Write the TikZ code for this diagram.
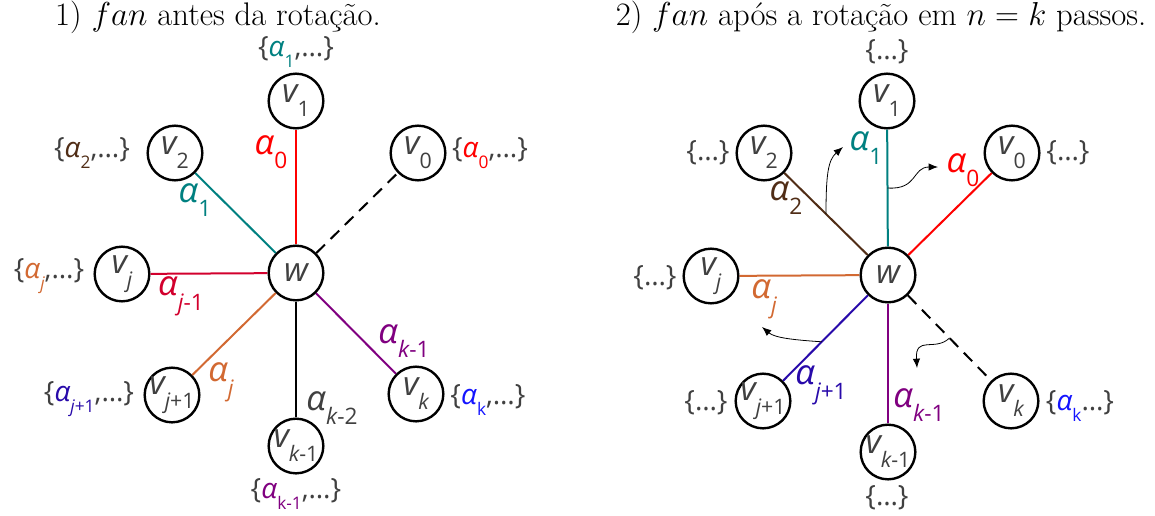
\documentclass[tikz,border=0pt]{standalone}
\usepackage{fontspec}
\newfontfamily\osans{Open Sans}
\usetikzlibrary{arrows.meta,calc}
\definecolor{tgray}{RGB}{64,64,64}
\definecolor{cteal}{RGB}{0,128,128}
\definecolor{cred}{RGB}{255,0,0}
\definecolor{ccrim}{RGB}{210,0,45}
\definecolor{corange}{RGB}{210,105,50}
\definecolor{cpurple}{RGB}{128,0,128}
\definecolor{cindigo}{RGB}{40,10,170}
\definecolor{cblue}{RGB}{20,20,255}
\definecolor{cbrown}{RGB}{80,45,22}
\newcommand\vsub[1]{\raisebox{-0.42em}{\fontsize{16}{16}\selectfont #1}}
\newcommand\esub[1]{\raisebox{-0.42em}{\fontsize{17}{17}\selectfont #1}}
\newcommand\ssub[1]{\raisebox{-0.42em}{\fontsize{13}{13}\selectfont #1}}
\newcommand\sal[1]{\textit{α}\ssub{#1}}
\tikzset{
  vert/.style={circle,draw=black,line width=1.8pt,minimum size=41pt,inner sep=0pt},
  vtx/.style={font=\osans\fontsize{25}{25}\selectfont\itshape,text=tgray,inner sep=0pt},
  edge/.style={line width=1.5pt},
  elab/.style={font=\osans\fontsize{26}{26}\selectfont\itshape,inner sep=0pt},
  slab/.style={font=\osans\fontsize{21}{21}\selectfont,text=tgray,inner sep=0pt},
  rot/.style={-{Latex[length=7pt,width=5.5pt]},line width=0.6pt},
  ttl/.style={font=\fontsize{24.5}{28}\selectfont,inner sep=0pt}
}
\begin{document}
\begin{tikzpicture}[x=0.75pt,y=-0.75pt]
\path[use as bounding box] (0,0) rectangle (1155,515);
% titles
\node[ttl] (T1) at (218,17) {1) $fan$ antes da rotação.};
\node[ttl] (T2) at (881,17) {2) $fan$ após a rotação em $n = k$ passos.};

% ---------- left fan ----------
\node[vert,label={[vtx]center:w}] (Lw) at (296,273) {};
\node[vert,label={[vtx]center:v\vsub{\upshape 1}}] (Lv1) at (296,101) {};
\node[vert,label={[vtx]center:v\vsub{\upshape 2}}] (Lv2) at (175,153) {};
\node[vert,label={[vtx]center:v\vsub{\upshape 0}}] (Lv0) at (418,153) {};
\node[vert,label={[vtx]center:v\vsub{j}}] (Lvj) at (122,274) {};
\node[vert,label={[vtx]center:v\vsub{j\upshape +1}}] (Lvj1) at (172,395) {};
\node[vert,label={[vtx]center:v\vsub{k\upshape -1}}] (Lvk1) at (296,446) {};
\node[vert,label={[vtx]center:v\vsub{k}}] (Lvk) at (416,394) {};

\draw[edge,cred] (Lw) -- (Lv1);
\draw[edge,cteal] (Lw) -- (Lv2);
\draw[edge,black,dash pattern=on 9pt off 6pt] (Lw) -- (Lv0);
\draw[edge,ccrim] (Lw) -- (Lvj);
\draw[edge,corange] (Lw) -- (Lvj1);
\draw[edge,black] (Lw) -- (Lvk1);
\draw[edge,cpurple] (Lw) -- (Lvk);

\node[elab,text=cred] (La0) at (271,152) {α\esub{\upshape 0}};
\node[elab,text=cteal] (La1) at (195,200) {α\esub{\upshape 1}};
\node[elab,text=ccrim] (Laj1) at (181,296) {α\esub{j\upshape -1}};
\node[elab,text=corange] (Laj) at (221,382) {α\esub{j}};
\node[elab,text=tgray] (Lak2) at (332,408) {α\esub{k\upshape -2}};
\node[elab,text=cpurple] (Lak1) at (404,341) {α\esub{k\upshape -1}};

\node[slab] (Ls1) at (296,52) {\{\textcolor{cteal}{\sal{1}},…\}};
\node[slab] (Ls2) at (92,153) {\{\textcolor{cbrown}{\sal{2}},…\}};
\node[slab] (Ls0) at (490,153) {\{\textcolor{cred}{\sal{0}},…\}};
\node[slab] (Lsj) at (49,276) {\{\textcolor{corange}{\sal{\itshape j}},…\}};
\node[slab] (Lsj1) at (89,399) {\{\textcolor{cindigo}{\sal{\itshape j\upshape +1}},…\}};
\node[slab] (Lsk) at (488,400) {\{\textcolor{cblue}{\sal{k}},…\}};
\node[slab] (Lsk1) at (296,494) {\{\textcolor{cpurple}{\sal{k-1}},…\}};

% ---------- right fan ----------
\node[vert,label={[vtx]center:w}] (Rw) at (888,275) {};
\node[vert,label={[vtx]center:v\vsub{\upshape 1}}] (Rv1) at (887,101) {};
\node[vert,label={[vtx]center:v\vsub{\upshape 2}}] (Rv2) at (764,153) {};
\node[vert,label={[vtx]center:v\vsub{\upshape 0}}] (Rv0) at (1012,153) {};
\node[vert,label={[vtx]center:v\vsub{j}}] (Rvj) at (711,276) {};
\node[vert,label={[vtx]center:v\vsub{j\upshape +1}}] (Rvj1) at (763,401) {};
\node[vert,label={[vtx]center:v\vsub{k\upshape -1}}] (Rvk1) at (888,452) {};
\node[vert,label={[vtx]center:v\vsub{k}}] (Rvk) at (1011,401) {};

\draw[edge,cteal] (Rw) -- (Rv1);
\draw[edge,cbrown] (Rw) -- (Rv2);
\draw[edge,cred] (Rw) -- (Rv0);
\draw[edge,corange] (Rw) -- (Rvj);
\draw[edge,cindigo] (Rw) -- (Rvj1);
\draw[edge,cpurple] (Rw) -- (Rvk1);
\draw[edge,black,dash pattern=on 9pt off 6pt] (Rw) -- (Rvk);

\node[elab,text=cbrown] (Ra2) at (786,198) {α\esub{\upshape 2}};
\node[elab,text=cteal] (Ra1) at (866,148) {α\esub{\upshape 1}};
\node[elab,text=cred] (Ra0) at (963,170) {α\esub{\upshape 0}};
\node[elab,text=corange] (Raj) at (764,299) {α\esub{j}};
\node[elab,text=cindigo] (Raj1) at (821,385) {α\esub{j\upshape +1}};
\node[elab,text=cpurple] (Rak1) at (919,405) {α\esub{k\upshape -1}};

\node[slab] (Rs1) at (887,52) {\{…\}};
\node[slab] (Rs2) at (708,153) {\{…\}};
\node[slab] (Rs0) at (1068,153) {\{…\}};
\node[slab] (Rsj) at (655,278) {\{…\}};
\node[slab] (Rsj1) at (706,403) {\{…\}};
\node[slab] (Rsk) at (1080,406) {\{\textcolor{cblue}{\sal{k}}…\}};
\node[slab] (Rsk1) at (887,498) {\{…\}};

% rotation arrows
\coordinate (e1) at (843,147);
\coordinate (e2) at (938,167);
\coordinate (e3) at (762,327);
\coordinate (e4) at (917,368);
\draw[rot] ($(Rw)!0.5!(Rv2)$) .. controls (826,175) and (828,160) .. (e1);
\draw[rot] ($(Rw)!0.5!(Rv1)$) .. controls (918,190) and (912,167) .. (e2);
\draw[rot] ($(Rw)!0.53!(Rvj1)$) .. controls (795,340) and (775,338) .. (e3);
\draw[rot] ($(Rw)!0.5!(Rvk)$) .. controls (935,352) and (915,335) .. (e4);
\end{tikzpicture}
\end{document}
